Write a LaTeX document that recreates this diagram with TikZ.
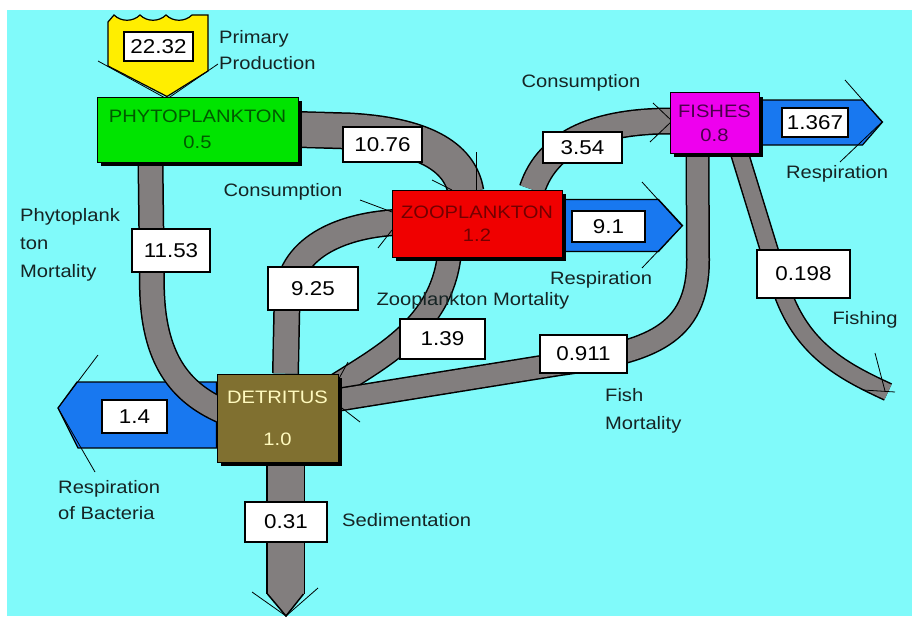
\documentclass[tikz,border=0pt]{standalone}
\usepackage{fontspec}
\setmainfont{Liberation Sans}[FakeStretch=1.12]
\usetikzlibrary{calc,shadows}

\definecolor{sea}{RGB}{128,250,250}
\definecolor{flowgray}{RGB}{130,126,126}
\definecolor{phytogreen}{RGB}{0,228,0}
\definecolor{zoored}{RGB}{240,0,0}
\definecolor{fishpink}{RGB}{238,0,238}
\definecolor{detolive}{RGB}{128,112,48}
\definecolor{respblue}{RGB}{24,120,240}
\definecolor{sunyellow}{RGB}{255,238,0}
\definecolor{ink}{RGB}{22,36,36}

\newcommand\lblfont{\fontsize{18}{26}\selectfont}
\newcommand\valfont{\fontsize{20}{24}\selectfont}

\pgfdeclarelayer{flows}
\pgfsetlayers{flows,main}

\tikzset{
  pool/.style={draw=black, line width=1pt, align=center, inner sep=0pt,
    font=\lblfont,
    drop shadow={shadow xshift=4pt, shadow yshift=-4pt, opacity=1, fill=black}},
  val/.style={draw=black, line width=1.2pt, fill=white, inner sep=0pt,
    font=\valfont, text=black},
  lbl/.style={font=\lblfont, text=ink, inner sep=0pt},
  flow/.style={draw=flowgray, line width=#1,
    preaction={draw=black, line width=#1+3pt}},
  resp/.style={draw=black, line width=1.2pt, fill=respblue},
  tick/.style={draw=black, line width=0.8pt},
}

\begin{document}
\begin{tikzpicture}[x=1pt, y=-1pt]
\useasboundingbox (0,0) rectangle (916,618);

% compartments
\node[pool, fill=phytogreen, text=green!35!black,
      minimum width=201pt, minimum height=65pt] (phyto) at (197.5,129.5)
      {PHYTOPLANKTON\\0.5};
\node[pool, fill=zoored, text=red!45!black,
      minimum width=170pt, minimum height=67pt] (zoo) at (477,223.5)
      {ZOOPLANKTON\\[-3pt]1.2};
\node[pool, fill=fishpink, text=violet!60!black,
      minimum width=89pt, minimum height=60pt] (fish) at (714.5,123)
      {FISHES\\[-2pt]0.8};
\node[pool, fill=detolive, text={rgb,255:red,255;green,250;blue,190},
      minimum width=121pt, minimum height=88pt] (detritus) at (277.5,418)
      {DETRITUS\\[16pt]1.0};

% free ends of the outgoing flows
\coordinate (sink) at (285.5,594);
\coordinate (sinktip) at (286,616);
\coordinate (catch) at (888,392);

\begin{pgfonlayer}{flows}
  % water
  \fill[white] (0,0) rectangle (916,618);
  \fill[sea] (7,10) rectangle (912,616);

  % primary production input
  \draw[fill=sunyellow, line width=1.2pt]
    (108,66) -- (108,22) -- (114,15)
    .. controls (121,22) and (133,22) .. (140,15)
    .. controls (147,22) and (159,22) .. (166,15)
    .. controls (173,22) and (185,22) .. (192,15)
    -- (208,15) -- (208,71) -- (phyto.north -| 167,0) -- cycle;
  \draw[tick] (98,61) -- (167,99) -- (218,64);

  % respiration outflows
  \draw[resp] ($(zoo.east)+(0,-24)$) -- ++(96,0) -- ++(24,26)
              -- ++(-24,26) -- ++(-96,0) -- cycle;
  \draw[tick] (642,182) -- (682,226) -- (642,268);
  \draw[resp] ($(fish.east)+(0,-23)$) -- ++(103,0) -- ++(20,22)
              -- ++(-20,23) -- ++(-103,0) -- cycle;
  \draw[tick] (845,80) -- (882,122) -- (840,162);
  \draw[resp] ($(detritus.west)+(0,-36)$) -- (77,382) -- (58,408)
              -- (78,448) -- ($(detritus.west)+(0,30)$) -- cycle;
  \draw[tick] (98,355) -- (58,408) -- (95,472);

  % consumption: phytoplankton -> zooplankton
  \draw[flow=34pt] (phyto.east) -- (350,131)
    .. controls (420,135) and (460,155) .. ($(zoo.north)+(-11,3)$);
  % phytoplankton mortality
  \draw[flow=23pt] ($(phyto.south)+(-47,0)$) -- (152,290)
    .. controls (154,365) and (185,395) .. ($(detritus.west)+(8,-6)$);
  % consumption: detritus -> zooplankton
  \draw[flow=24pt] ($(detritus.north)+(8,0)$) -- (287,300)
    .. controls (288,248) and (340,226) .. ($(zoo.west)+(3,-1)$);
  % zooplankton mortality
  \draw[flow=22pt] ($(zoo.south)+(-28,0)$)
    .. controls (440,325) and (385,355) .. ($(detritus.north east)+(-2,12)$);
  % consumption: zooplankton -> fishes
  \draw[flow=24pt] ($(zoo.north)+(55,0)$)
    .. controls (548,140) and (600,121) .. ($(fish.west)+(2,-2)$);
  % fish mortality
  \draw[flow=21pt] ($(fish.south)+(-17,0)$) -- (698,260)
    .. controls (698,335) and (650,352) .. (560,364)
    -- ($(detritus.east)+(-2,-18)$);
  % fishing
  \draw[flow=16pt] ($(fish.south)+(25,0)$) -- (780,285)
    .. controls (800,350) and (845,372) .. (catch);
  \draw[tick] (875,353) -- (885,391);
  \draw[tick] (863,390) -- (895,392);
  % sedimentation
  \draw[flow=36pt] ($(detritus.south)+(8,0)$) -- (sink);
  \fill[flowgray] ($(sink)+(-18,0)$) -- (sinktip) -- ($(sink)+(18,0)$) -- cycle;
  \draw[tick, line width=1.5pt] ($(sink)+(-18,0)$) -- (sinktip) -- ($(sink)+(18,0)$);
  \draw[tick] (252,592) -- (sinktip) -- (318,588);

  % arrowhead edges where flows enter compartments
  \draw[tick] (476,152) -- (476,192);
  \draw[tick] (432,180) -- (452,190);
  \draw[tick] (360,200) -- (392,212);
  \draw[tick] (378,248) -- (392,230);
  \draw[tick] (653,103) -- (672,121);
  \draw[tick] (650,142) -- (672,121);
  \draw[tick] (348,362) -- (336,384);
  \draw[tick] (360,422) -- (338,405);
\end{pgfonlayer}

% flow values
\node[val, minimum width=69pt, minimum height=29pt] (v1) at (158.5,46.5) {22.32};
\node[val, minimum width=79pt, minimum height=35pt] (v2) at (382.5,144.5) {10.76};
\node[val, minimum width=78pt, minimum height=43pt] (v3) at (171,250.5) {11.53};
\node[val, minimum width=90pt, minimum height=43pt] (v4) at (313,288.5) {9.25};
\node[val, minimum width=85pt, minimum height=40pt] (v5) at (442.5,339) {1.39};
\node[val, minimum width=79pt, minimum height=31pt] (v6) at (582.5,147.5) {3.54};
\node[val, minimum width=73pt, minimum height=31pt] (v7) at (608.5,226.5) {9.1};
\node[val, minimum width=66pt, minimum height=29pt] (v8) at (815,122.5) {1.367};
\node[val, minimum width=93pt, minimum height=48pt] (v9) at (803.5,274) {0.198};
\node[val, minimum width=87pt, minimum height=38pt] (v10) at (583.5,354) {0.911};
\node[val, minimum width=65pt, minimum height=33pt] (v11) at (134.5,416.5) {1.4};
\node[val, minimum width=82pt, minimum height=40pt] (v12) at (286,522) {0.31};

% flow names
\node[lbl, anchor=west, align=left] (t1) at (219,50) {Primary\\Production};
\node[lbl] (t2) at (581,83) {Consumption};
\node[lbl] (t3) at (283,192) {Consumption};
\node[lbl, anchor=west, align=left, font=\fontsize{18}{28}\selectfont] (t4) at (20,245)
  {Phytoplank\\ton\\Mortality};
\node[lbl] (t5) at (601,280) {Respiration};
\node[lbl] (t6) at (473,301) {Zooplankton Mortality};
\node[lbl] (t7) at (837,174) {Respiration};
\node[lbl] (t8) at (865,320) {Fishing};
\node[lbl, anchor=west, align=left, font=\fontsize{18}{28}\selectfont] (t9) at (605,411)
  {Fish\\Mortality};
\node[lbl, anchor=west, align=left] (t10) at (58,500) {Respiration\\of Bacteria};
\node[lbl, anchor=west] (t11) at (342,520) {Sedimentation};
\end{tikzpicture}
\end{document}
